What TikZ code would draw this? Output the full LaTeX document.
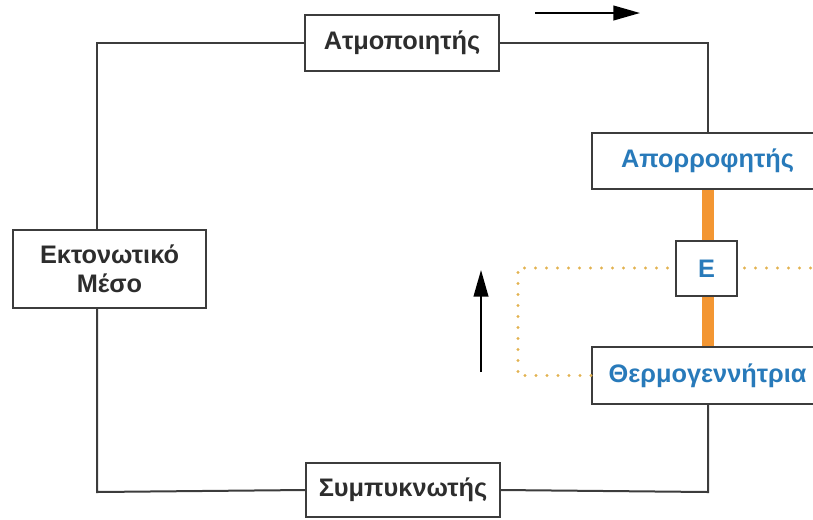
\documentclass[tikz,border=0pt]{standalone}
\usepackage{fontspec}
\setmainfont{Liberation Sans}
\usetikzlibrary{arrows.meta}

\definecolor{framegray}{RGB}{60,60,60}
\definecolor{textgray}{RGB}{45,45,45}
\definecolor{heatblue}{RGB}{40,122,186}
\definecolor{barorange}{RGB}{243,150,50}
\definecolor{dotorange}{RGB}{226,178,80}

\tikzset{
  unit/.style={draw=framegray, line width=1.5pt, fill=white, inner sep=0pt, align=center,
    font=\fontsize{19}{22}\selectfont\bfseries, text=textgray},
  pipe/.style={draw=framegray, line width=1.5pt},
  heatbar/.style={draw=barorange, line width=9pt},
  heatdots/.style={draw=dotorange, line width=2.5pt, line cap=round, dash pattern=on 0pt off 8.25pt},
  flow/.style={draw=black, line width=1.5pt, -{Triangle[length=20pt,width=11pt]}}
}

\begin{document}
\begin{tikzpicture}[x=0.75pt,y=0.75pt,yscale=-1,xscale=1]
\useasboundingbox (0,0) rectangle (813,519);
\clip (0,0) rectangle (813,519);

%Corners of the circuit
\coordinate (tl) at (97,43);
\coordinate (bl) at (97,492);
\coordinate (br) at (708,492);
\coordinate (dotcorner) at (518,268);
\coordinate (dotend) at (830,268);

% Units
\node [unit, minimum width=145.5pt, minimum height=42pt] (atm) at (402,43) {Ατμοποιητής};
\node [unit, minimum width=173.25pt, minimum height=42pt, text=heatblue] (apo) at (707.5,161) {Απορροφητής};
\node [unit, minimum width=173.25pt, minimum height=42.75pt, text=heatblue] (therm) at (707.5,375.5) {Θερμογεννήτρια};
\node [unit, minimum width=144.75pt, minimum height=58.5pt] (ekt) at (109.5,269) {Εκτονωτικό\\Μέσο};
\node [unit, minimum width=145.5pt, minimum height=40.5pt] (sym) at (403,490) {Συμπυκνωτής};

%Heat link
\draw [heatbar] (apo.south) -- (therm.north);
\draw [heatdots] (therm.west) -| (dotcorner) -- (dotend);
\node [unit, line width=1pt, minimum width=45.75pt, minimum height=41.25pt, text=heatblue] (E) at (706.5,268.5) {E};

%Straight Lines
\draw [pipe] (atm.east) -| (apo.north);
\draw [pipe] (atm.west) -- (tl) -- (tl |- ekt.north);
\draw [pipe] (tl |- ekt.south) -- (bl) -- (sym.west);
\draw [pipe] (sym.east) -- (br) -- (br |- therm.south);

%Arrows
\coordinate (topA) at (535,13);
\coordinate (topB) at (640,13);
\coordinate (upA) at (481,372);
\coordinate (upB) at (481,270);
\draw [flow] (topA) -- (topB);
\draw [flow] (upA) -- (upB);

\end{tikzpicture}
\end{document}
